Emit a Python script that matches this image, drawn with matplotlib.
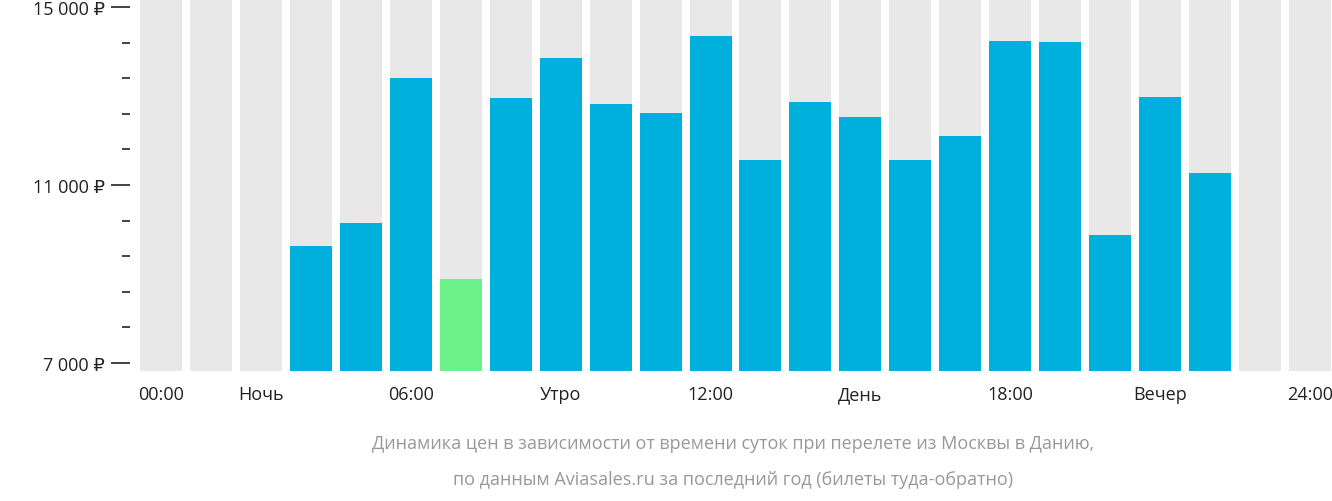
import matplotlib
matplotlib.use("Agg")
import matplotlib.pyplot as plt
import numpy as np

plt.rcParams["font.family"] = ["Open Sans", "DejaVu Sans"]

slots = list(range(24))
prices = [None, None, None, 9630, 10150, 13400, 8890, 12950, 13850, 12820, 12620, 14350,
          11560, 12860, 12530, 11560, 12100, 14240, 14210, 9880, 12980, 11270, None, None]
cheapest_slot = 6
xtick_slots = [0, 2, 5, 8, 11, 14, 17, 20, 23]
xtick_labels = ["00:00", "Ночь", "06:00", "Утро", "12:00", "День", "18:00", "Вечер", "24:00"]
ytick_major = [7000, 11000, 15000]
ytick_labels = ["7 000 ₽", "11 000 ₽", "15 000 ₽"]
ytick_minor = [7800, 8600, 9400, 10200, 11800, 12600, 13400, 14200]

y0, y1 = 6820, 15180
fig = plt.figure(figsize=(13.32, 5.02), dpi=100)
ax = fig.add_axes([140/1332, 1-372/502, 1-140/1332, 372/502])
ax.bar(slots, [y1-y0]*24, bottom=y0, width=0.84, color="#e8e8e8", align="center")
for s, p in zip(slots, prices):
    if p is None:
        continue
    c = "#6cf08a" if s == cheapest_slot else "#00b0dc"
    ax.bar(s, p-y0, bottom=y0, width=0.84, color=c)
ax.set_xlim(-0.42, 23.44)
ax.set_ylim(y0, y1)
for sp in ax.spines.values():
    sp.set_visible(False)
ax.set_xticks(xtick_slots)
ax.set_xticklabels(xtick_labels, fontsize=13, color="#222222")
ax.tick_params(axis="x", length=0, pad=10)
ax.set_yticks(ytick_major)
ax.set_yticklabels(ytick_labels, fontsize=13, color="#222222")
ax.set_yticks(ytick_minor, minor=True)
ax.tick_params(axis="y", which="major", length=14, width=1.2, color="#222222", pad=4)
ax.tick_params(axis="y", which="minor", length=6, width=1.2, color="#222222")
ax.yaxis.set_tick_params(which="both", direction="out")
for t in ax.yaxis.get_major_ticks() + ax.yaxis.get_minor_ticks():
    pass
# shift ticks left of axes a bit
import matplotlib.transforms as mt
off = mt.ScaledTranslation(-10/100, 0, fig.dpi_scale_trans)
for line in ax.yaxis.get_ticklines(minor=False) + ax.yaxis.get_ticklines(minor=True):
    line.set_transform(line.get_transform() + off)
for lab in ax.get_yticklabels():
    lab.set_transform(lab.get_transform() + off)

fig.text(0.55, 1-444/502, "Динамика цен в зависимости от времени суток при перелете из Москвы в Данию,",
         ha="center", va="center", fontsize=13, color="#999999")
fig.text(0.55, 1-480/502, "по данным Aviasales.ru за последний год (билеты туда-обратно)",
         ha="center", va="center", fontsize=13, color="#999999")
fig.savefig("out.png", dpi=100)
